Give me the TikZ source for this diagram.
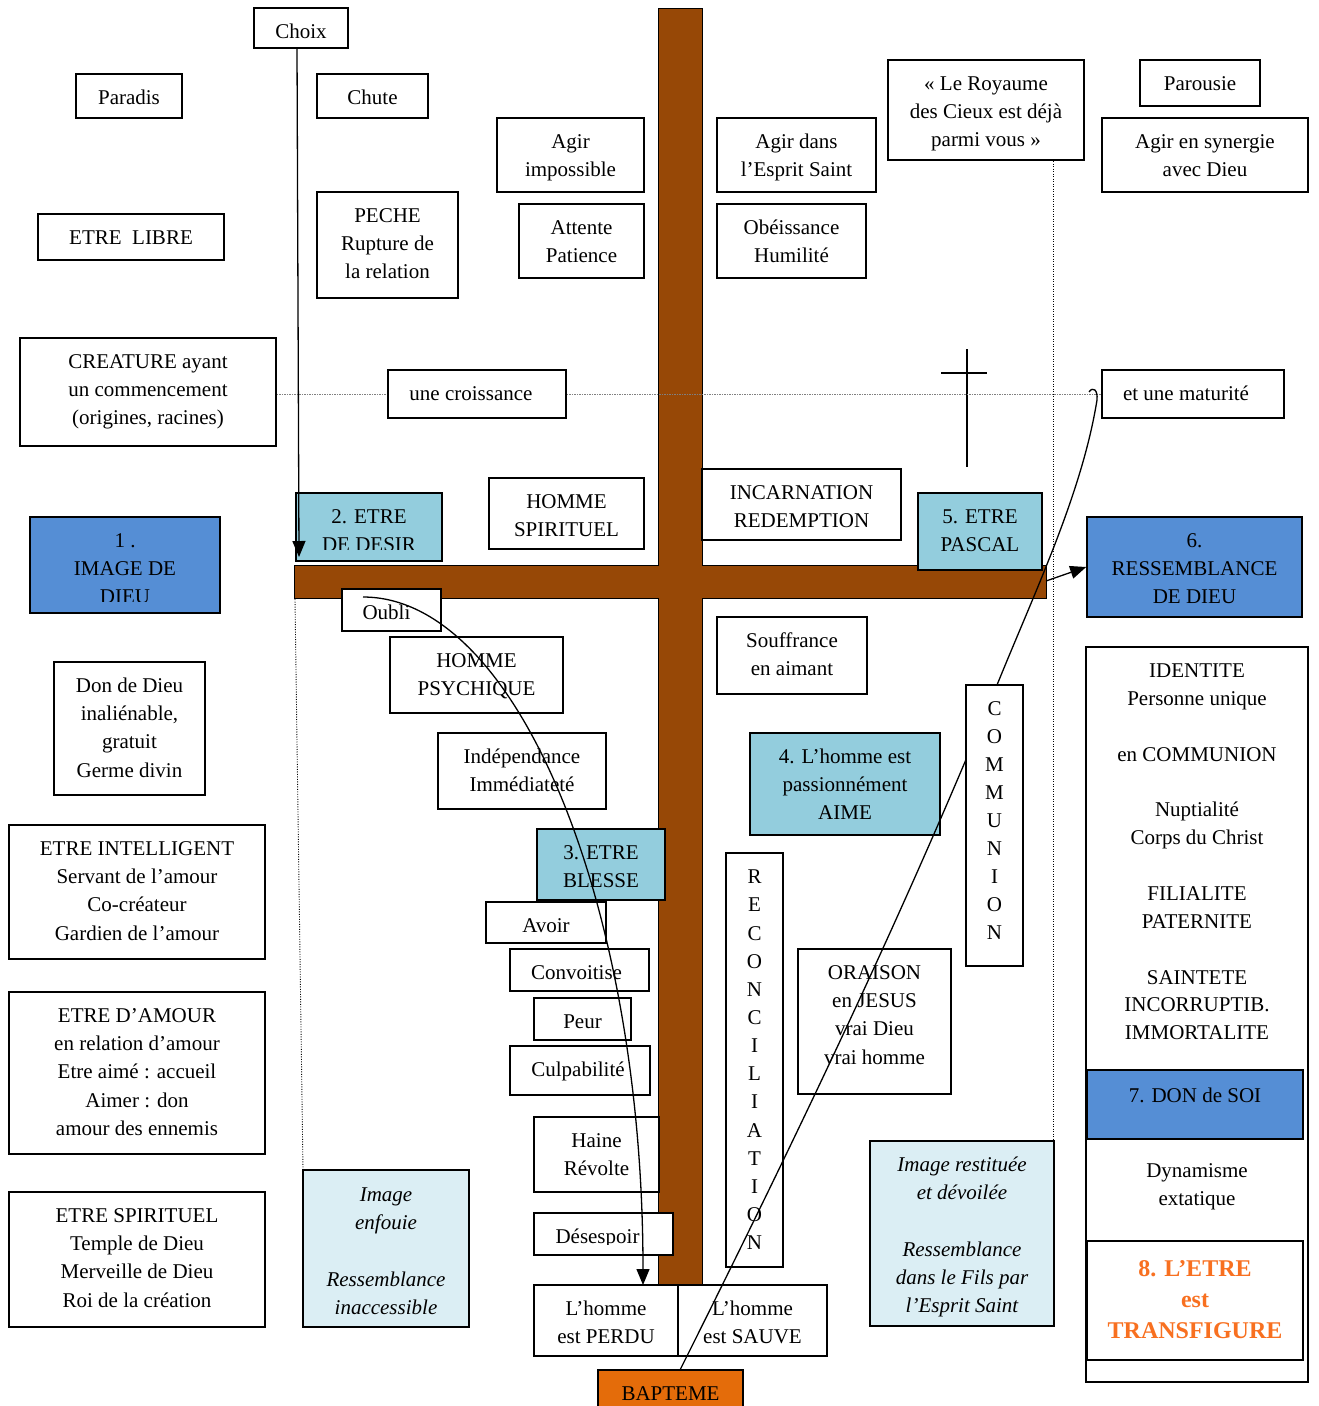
\documentclass[tikz,border=0pt]{standalone}
\usepackage{fontspec}
\setmainfont{Liberation Serif}
\usetikzlibrary{arrows.meta,calc}
\definecolor{brownbar}{RGB}{151,72,6}
\definecolor{cyanbox}{RGB}{147,205,221}
\definecolor{bluebox}{RGB}{85,142,213}
\definecolor{paleblue}{RGB}{219,238,244}
\definecolor{baporange}{RGB}{228,108,10}
\definecolor{txtorange}{RGB}{248,112,32}
\newcommand\fs{\fontsize{21}{28.1}\selectfont}
% box with top-anchored text: [box opts]{name}{x1}{y1}{x2}{y2}{text opts}{text}
\newcommand\rbox[8][]{%
  \pgfmathsetmacro\cx{(#3+#5)/2}\pgfmathsetmacro\cy{(#4+#6)/2}%
  \pgfmathsetmacro\ww{#5-#3}\pgfmathsetmacro\hh{#6-#4}%
  \pgfmathsetmacro\ty{#4+10.5}%
  \node[bx,minimum width=\ww pt,minimum height=\hh pt,#1] (#2) at (\cx,\cy) {};%
  \node[txt,anchor=north,#7] (#2t) at (\cx,\ty) {\rule{0pt}{20pt}#8};}
% box whose text is clipped: [box opts]{name}{x1}{y1}{x2}{y2}{clip y}{text}
\newcommand\cbox[8][]{%
  \pgfmathsetmacro\cx{(#3+#5)/2}\pgfmathsetmacro\cy{(#4+#6)/2}%
  \pgfmathsetmacro\ww{#5-#3}\pgfmathsetmacro\hh{#6-#4}%
  \pgfmathsetmacro\ty{#4+10.5}%
  \node[bx,minimum width=\ww pt,minimum height=\hh pt,#1] (#2) at (\cx,\cy) {};%
  \begin{scope}\clip (#3,#4) rectangle (#5,#7);
  \node[txt,anchor=north] (#2t) at (\cx,\ty) {\rule{0pt}{20pt}#8};\end{scope}}
\begin{document}
\begin{tikzpicture}[x=1pt,y=-1pt,
  bx/.style={draw,line width=1.6pt,fill=white,inner sep=0pt},
  cyf/.style={fill=cyanbox},
  blf/.style={fill=bluebox},
  pbf/.style={fill=paleblue},
  txt/.style={font=\fs,align=center,inner sep=0pt},
  it/.style={font=\fs\itshape},
  conn/.style={line width=1.3pt,-{Triangle[length=16pt,width=13pt]}},
  dotl/.style={line width=0.9pt,dash pattern=on 1pt off 1.5pt},
  dashl/.style={line width=0.7pt,gray,dash pattern=on 1.5pt off 1pt}]
\useasboundingbox (0,0) rectangle (1318,1406);

% dotted guide lines
\coordinate (dotL) at (295,599);
\coordinate (dotR) at (1053,161);
\coordinate (dotRb) at (1053,1141);
\coordinate (dotLb) at (303,1170);
\draw[dotl] (dotL) -- (dotLb);
\draw[dotl] (dotR) -- (dotRb);

% the big cross
\draw[fill=brownbar,line width=1pt]
  (658,8) -- (702,8) -- (702,565) -- (1046,565) -- (1046,598) -- (702,598)
  -- (702,1285) -- (658,1285) -- (658,598) -- (294,598) -- (294,565) -- (658,565) -- cycle;

% small cross
\draw[line width=1.3pt] (967,349) -- (967,467) (941,373) -- (987,373);

% top rows
\rbox{choix}{254}{8}{348}{48}{}{Choix}
\rbox{paradis}{76}{74}{182}{118}{}{Paradis}
\rbox{chute}{317}{74}{428}{118}{}{Chute}
\rbox{libre}{38}{214}{224}{260}{}{ETRE\ \ LIBRE}
\rbox{peche}{317}{192}{458}{298}{}{PECHE\\Rupture de\\la relation}
\rbox{agirimp}{497}{118}{644}{192}{}{Agir\\impossible}
\rbox{attente}{519}{204}{644}{278}{}{Attente\\Patience}
\rbox{agirdans}{717}{118}{876}{192}{}{Agir dans\\l’Esprit Saint}
\rbox{obeis}{717}{204}{866}{278}{}{Obéissance\\Humilité}
\rbox{royaume}{888}{60}{1084}{160}{}{«~Le Royaume\\des Cieux est déjà\\parmi vous~»}
\rbox{parousie}{1140}{60}{1260}{106}{}{Parousie}
\rbox{synergie}{1102}{118}{1308}{192}{}{Agir en synergie\\avec Dieu}
\rbox{creature}{20}{338}{276}{446}{}{CREATURE ayant\\un commencement\\(origines, racines)}
\rbox{maturite}{1102}{370}{1284}{418}{xshift=-7pt}{et une maturité}

% dashed growth line
\draw[dashl] (creature.east |- maturite.west) -- (maturite.west);
\rbox{croissance}{388}{370}{566}{418}{xshift=-6pt}{une croissance}

% middle band
\cbox[cyf]{etre2}{296}{493}{442}{561}{549.3}{2. ETRE\\DE DESIR}
\cbox[blf]{image1}{30}{517}{220}{613}{601.4}{1 .\\IMAGE DE\\DIEU}
\rbox{spirituel}{489}{478}{644}{549}{}{HOMME\\SPIRITUEL}
\rbox{incarn}{702}{469}{901}{540}{}{INCARNATION\\REDEMPTION}
\rbox[cyf]{pascal}{918}{493}{1042}{570}{}{5. ETRE\\PASCAL}
\rbox[blf]{ress6}{1087}{517}{1302}{617}{}{6.\\RESSEMBLANCE\\DE DIEU}

% left column
\rbox{don}{54}{662}{205}{795}{}{Don de Dieu\\inaliénable,\\gratuit\\Germe divin}
\rbox{intell}{9}{825}{265}{959}{}{ETRE INTELLIGENT\\Servant de l’amour\\Co-créateur\\Gardien de l’amour}
\rbox{amour}{9}{992}{265}{1154}{}{ETRE D’AMOUR\\en relation d’amour\\Etre aimé : accueil\\Aimer : don\\amour des ennemis}
\rbox{spirit}{9}{1192}{265}{1327}{}{ETRE SPIRITUEL\\Temple de Dieu\\Merveille de Dieu\\Roi de la création}

% descent (left of cross)
\rbox{oubli}{342}{589}{441}{631}{xshift=-5pt}{Oubli}
\rbox{psych}{390}{637}{563}{713}{}{HOMME\\PSYCHIQUE}
\rbox{indep}{438}{733}{606}{809}{}{Indépendance\\Immédiateté}
\rbox[cyf]{blesse}{537}{829}{665}{900}{}{3. ETRE\\BLESSE}
\rbox{avoir}{486}{902}{606}{943}{}{Avoir}
\rbox{convoit}{510}{949}{649}{991}{xshift=-3pt}{Convoitise}
\rbox{peur}{534}{998}{631}{1040}{}{Peur}
\rbox{culpa}{510}{1046}{650}{1095}{xshift=-2pt}{Culpabilité}
\rbox{haine}{534}{1117}{659}{1192}{}{Haine\\Révolte}
\cbox{desesp}{534}{1213}{673}{1255}{1244}{\hspace*{-12pt}Désespoir}
\rbox{perdu}{534}{1285}{678}{1356}{}{L’homme\\est PERDU}
\rbox{sauve}{678}{1285}{827}{1356}{}{L’homme\\est SAUVE}
\rbox[fill=baporange]{bapteme}{598}{1370}{743}{1416}{}{BAPTEME}
\rbox[pbf]{enfouie}{303}{1170}{469}{1327}{it,yshift=-1pt}{Image\\enfouie\\\mbox{}\\Ressemblance\\inaccessible}

% right of cross
\rbox{souffr}{717}{617}{867}{694}{}{Souffrance\\en aimant}
\rbox[cyf]{aime}{750}{733}{940}{835}{}{4. L’homme est\\passionnément\\AIME}
\rbox{reconc}{726}{853}{783}{1267}{font=\fontsize{21}{28.15}\selectfont}{R\\E\\C\\O\\N\\C\\I\\L\\I\\A\\T\\I\\O\\N}
\rbox{oraison}{798}{949}{951}{1094}{}{ORAISON\\en JESUS\\vrai Dieu\\vrai homme}
\rbox[pbf]{restituee}{870}{1141}{1054}{1326}{it}{Image restituée\\et dévoilée\\\mbox{}\\Ressemblance\\dans le Fils par\\l’Esprit Saint}

% right column
\rbox{colbox}{1086}{647}{1308}{1382}{font=\fontsize{21}{27.85}\selectfont}{IDENTITE\\Personne unique\\\mbox{}\\en COMMUNION\\\mbox{}\\Nuptialité\\Corps du Christ\\\mbox{}\\FILIALITE\\PATERNITE\\\mbox{}\\SAINTETE\\INCORRUPTIB.\\IMMORTALITE}
\rbox[blf]{don7}{1087}{1070}{1303}{1139}{yshift=-1.5pt}{7. DON de SOI}
\node[txt,anchor=north] (dynt) at (1197,1157) {\rule{0pt}{20pt}Dynamisme\\extatique};
\rbox{transf}{1087}{1241}{1303}{1360}{font=\fontsize{24}{31}\selectfont\bfseries,text=txtorange,yshift=-4.5pt}{8. L’ETRE\\est\\TRANSFIGURE}

% connectors
\coordinate (choixS) at (297,48);
\coordinate (choixE) at (299,557);
\draw[conn] (choixS) -- (choixE);

\coordinate (oubliS) at (363,597);
\coordinate (perduT) at (643,1285);
\draw[conn] (oubliS) .. controls +(154.6,0) and +(0,-380) .. (perduT);

\coordinate (barR) at (1046,581);
\draw[conn] (barR) -- (ress6.west);

\coordinate (bapS) at (680,1370);
\coordinate (hookE) at (1089,392);
\draw[line width=1.3pt] (bapS) .. controls (795,1140) and (903,915) .. (997,685)
  .. controls (1036,589) and (1082,493) .. (1097,400)
  .. controls (1098,390) and (1093,386) .. (hookE);

% communion box on top of the line
\rbox{commun}{966}{685}{1023}{966}{font=\fontsize{21}{28}\selectfont}{C\\O\\M\\M\\U\\N\\I\\O\\N}
\end{tikzpicture}
\end{document}
